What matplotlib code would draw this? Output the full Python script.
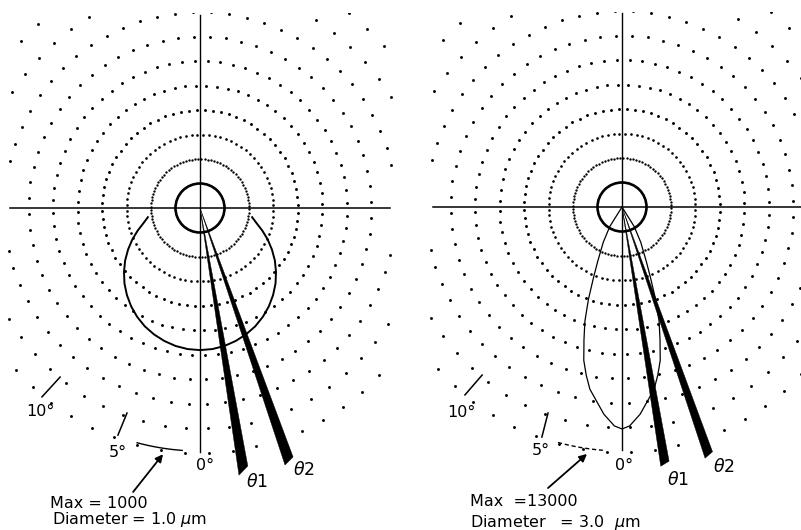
import numpy as np
import matplotlib.pyplot as plt
from matplotlib.patches import Polygon, Rectangle, Circle

# ring levels (units of ~24.5 px) and dots drawn on each ring
ring_levels = [2, 3, 4, 5, 6, 7, 8, 9, 10]
ring_dots = [96, 80, 76, 72, 72, 68, 68, 64, 64]

# scattering lobes, angle from the downward axis (deg) and radius
lobe1_phi = [0, 5, 10, 15, 20, 25, 30, 35, 40, 45, 50, 55, 60, 65, 70, 75, 80]
lobe1_r = [5.80, 5.78, 5.72, 5.62, 5.49, 5.33, 5.13, 4.90, 4.64, 4.36, 4.05,
           3.73, 3.39, 3.05, 2.71, 2.39, 2.16]

lobe2_phi = [0, 2, 5, 7, 10, 12, 14, 16, 18, 20, 22, 24, 28, 32, 38]
lobe2_r = [9.06, 8.94, 8.49, 8.08, 7.55, 7.02, 6.45, 5.63, 4.90, 4.00, 3.10,
           2.45, 1.63, 0.94, 0.0]

# wedge ends (angle deg, radius) for theta1 / theta2
wedge1_left = [(8.3, 11.02), (10.5, 10.71)]
wedge2_left = [(18.3, 11.05), (20.5, 10.85)]
wedge1_right = [(8.5, 10.70), (10.5, 10.55)]
wedge2_right = [(18.3, 10.80), (20.3, 10.65)]

max_labels = ['Max = 1000', 'Max  =13000']
diam_labels = ['Diameter = 1.0 $\\mu$m', 'Diameter   = 3.0  $\\mu$m']

U = 24.5  # px per unit


def pol(phi_deg, r):
    p = np.radians(np.asarray(phi_deg, dtype=float))
    r = np.asarray(r, dtype=float)
    return r * np.sin(p), -r * np.cos(p)


def draw_panel(ax, lobe_phi, lobe_r, lobe_lw, wedges, clip, hline, vline,
               arc_style, txt):
    clip_rect = Rectangle((clip[0], clip[2]), clip[1] - clip[0], clip[3] - clip[2],
                          transform=ax.transData, fill=False, visible=False)
    ax.add_patch(clip_rect)
    for lev, n in zip(ring_levels, ring_dots):
        t = np.linspace(0, 360, n, endpoint=False) + 2.0
        x, y = pol(t, np.full(n, lev))
        ms = {2: 1.7, 3: 1.9}.get(lev, 2.1)
        pts, = ax.plot(x, y, 'o', ms=ms, color='black', mec='none')
        pts.set_clip_path(clip_rect)

    ax.plot(hline, [0, 0], color='black', lw=1.1)
    ax.plot([0, 0], vline, color='black', lw=1.0)
    ax.add_patch(Circle((0, 0), 1.0, fill=False, lw=1.9, color='black'))

    phi = np.concatenate([-np.array(lobe_phi[::-1]), np.array(lobe_phi[1:])])
    rr = np.concatenate([np.array(lobe_r[::-1]), np.array(lobe_r[1:])])
    lx, ly = pol(phi, rr)
    ax.plot(lx, ly, color='black', lw=lobe_lw)

    for w in wedges:
        wx, wy = pol([c[0] for c in w], [c[1] for c in w])
        verts = [(0, 0), (wx[0], wy[0]), (wx[1], wy[1])]
        ax.add_patch(Polygon(verts, closed=True, color='black', lw=0.3))

    # angle scale ticks and the "Max" arc
    for (x0, y0, x1, y1) in txt['ticks']:
        ax.plot([x0, x1], [y0, y1], color='black', lw=1.1)
    ax_phi = np.linspace(txt['arc'][0], txt['arc'][1], 20)
    axx, axy = pol(ax_phi, np.full(20, txt['arc'][2]))
    ax.plot(axx, axy, color='black', lw=1.0, ls=arc_style)

    ax.annotate('', xy=txt['arrow'][2:], xytext=txt['arrow'][:2],
                arrowprops=dict(arrowstyle='-|>', color='black', lw=1.3,
                                mutation_scale=11, shrinkA=0, shrinkB=0))

    fs = 11.5
    for s, (x, y) in zip(['10°', '5°', '0°'], txt['deg']):
        ax.text(x, y, s, ha='center', va='center', fontsize=fs)
    ax.text(*txt['th1'], '$\\theta$1', ha='center', va='center', fontsize=fs + 1)
    ax.text(*txt['th2'], '$\\theta$2', ha='center', va='center', fontsize=fs + 1)
    ax.text(*txt['max'], txt['maxs'], ha='left', va='center', fontsize=fs)
    ax.text(*txt['dia'], txt['dias'], ha='left', va='center', fontsize=fs)


fig = plt.figure(figsize=(8.01, 5.30), dpi=100)

axL = fig.add_axes([0, 0, 400 / 801, 1])
axL.set_xlim(-200 / U, 200 / U)
axL.set_ylim(-(530 - 208) / U, 208 / U)
axL.axis('off')

axR = fig.add_axes([400 / 801, 0, 401 / 801, 1])
axR.set_xlim((400 - 622) / U, (801 - 622) / U)
axR.set_ylim(-(530 - 207) / U, 207 / U)
axR.axis('off')

txtL = dict(
    ticks=[(-6.45, -7.71, -5.71, -6.90), (-3.35, -9.27, -2.98, -8.37)],
    arc=(-15.0, -4.2, 9.92),
    arrow=(-2.73, -11.59, -1.51, -10.05),
    deg=[(-6.53, -8.29), (-3.35, -9.96), (0.2, -10.49)],
    th1=(2.33, -11.18), th2=(4.24, -10.69),
    max=(-6.12, -12.08), dia=(-6.04, -12.73),
    maxs=max_labels[0], dias=diam_labels[0])

txtR = dict(
    ticks=[(-6.41, -7.67, -5.71, -6.86), (-3.27, -9.39, -3.02, -8.41)],
    arc=(-15.2, -4.5, 9.96),
    arrow=(-3.02, -11.47, -1.43, -10.08),
    deg=[(-6.57, -8.37), (-3.31, -9.92), (0.08, -10.57)],
    th1=(2.29, -11.14), th2=(4.16, -10.61),
    max=(-6.2, -12.04), dia=(-6.2, -12.86),
    maxs=max_labels[1], dias=diam_labels[1])

draw_panel(axL, lobe1_phi, lobe1_r, 1.4, [wedge1_left, wedge2_left],
           (-7.84, 7.84, -10.2, 7.96), [-7.76, 7.76], [7.88, -9.96], '-', txtL)
draw_panel(axR, lobe2_phi, lobe2_r, 0.9, [wedge1_right, wedge2_right],
           (-7.84, 7.4, -10.2, 7.96), [-7.71, 7.4], [7.92, -9.92], (0, (3, 2)), txtR)

fig.savefig('out.png', dpi=100, facecolor='white')
